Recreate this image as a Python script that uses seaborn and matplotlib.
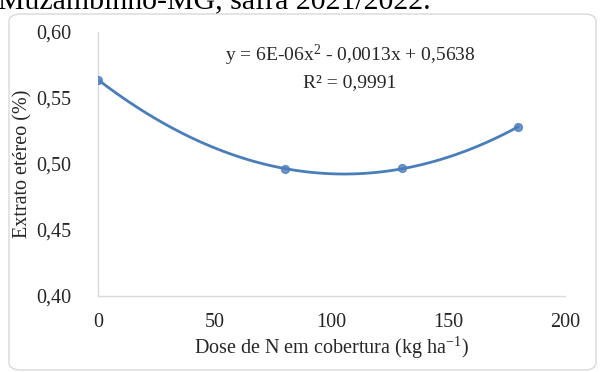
import matplotlib
matplotlib.use("Agg")
import matplotlib.pyplot as plt
from matplotlib.patches import FancyBboxPatch
import seaborn as sns
import numpy as np
import pandas as pd

dose = [0, 80, 130, 180]
extrato = [0.564, 0.496, 0.497, 0.528]
xticks = [0, 50, 100, 150, 200]
yticks = [0.40, 0.45, 0.50, 0.55, 0.60]
ytick_labels = ["0,40", "0,45", "0,50", "0,55", "0,60"]
equation = "y = 6E-06x$^2$ - 0,0013x + 0,5638"
r2_text = "R² = 0,9991"
title_text = "Muzambinho-MG, safra 2021/2022."
xlabel = "Dose de N em cobertura (kg ha$^{-1}$)"
ylabel = "Extrato etéreo (%)"

df = pd.DataFrame({"dose": dose, "extrato": extrato})

sns.set_theme(style="white")
plt.rcParams["font.family"] = ["Liberation Serif", "DejaVu Serif"]
plt.rcParams["mathtext.fontset"] = "custom"
plt.rcParams["mathtext.rm"] = "Liberation Serif"
plt.rcParams["mathtext.it"] = "Liberation Serif"

fig = plt.figure(figsize=(6, 3.72), dpi=100)
fig.patch.set_facecolor("white")

# chart frame
frame = FancyBboxPatch((9 / 600, 2 / 372), 587 / 600, 356 / 372,
                       boxstyle="round,pad=0,rounding_size=0.02",
                       transform=fig.transFigure, facecolor="none",
                       edgecolor="#d9d9d9", linewidth=1.0, zorder=-5)
fig.patches.append(frame)

fig.text(-2 / 600, 1 - 9 / 372, title_text, fontsize=21.5, ha="left",
         va="baseline", color="black")

ax = fig.add_axes([98 / 600, 1 - 296 / 372, 467 / 600, 264 / 372])
ax.set_facecolor("none")
ax.set_zorder(2)
blue = "#4a7ebb"
sns.regplot(data=df, x="dose", y="extrato", order=2, ci=None, ax=ax,
            scatter_kws={"s": 32, "color": blue, "zorder": 3},
            line_kws={"color": blue, "lw": 2.0}, truncate=True)

ax.set_xlim(0, 200)
ax.set_ylim(0.40, 0.60)
ax.set_xticks(xticks)
ax.set_xticklabels([str(t) for t in xticks])
ax.set_yticks(yticks)
ax.set_yticklabels(ytick_labels)
ax.tick_params(axis="both", length=0, labelsize=14.5)
ax.tick_params(axis="x", pad=12)
ax.tick_params(axis="y", pad=19)
for s in ["top", "right"]:
    ax.spines[s].set_visible(False)
for s in ["left", "bottom"]:
    ax.spines[s].set_color("#d9d9d9")
    ax.spines[s].set_linewidth(1.0)
ax.set_xlabel(xlabel, fontsize=14.5, labelpad=2)
ax.set_ylabel(ylabel, fontsize=14.5)
ax.yaxis.set_label_coords(-0.14, 0.5)

ax.text(0.54, 0.913, equation, transform=ax.transAxes, ha="center",
        va="center", fontsize=14)
ax.text(0.54, 0.81, r2_text, transform=ax.transAxes, ha="center",
        va="center", fontsize=14)

fig.savefig("out.png", dpi=100)
